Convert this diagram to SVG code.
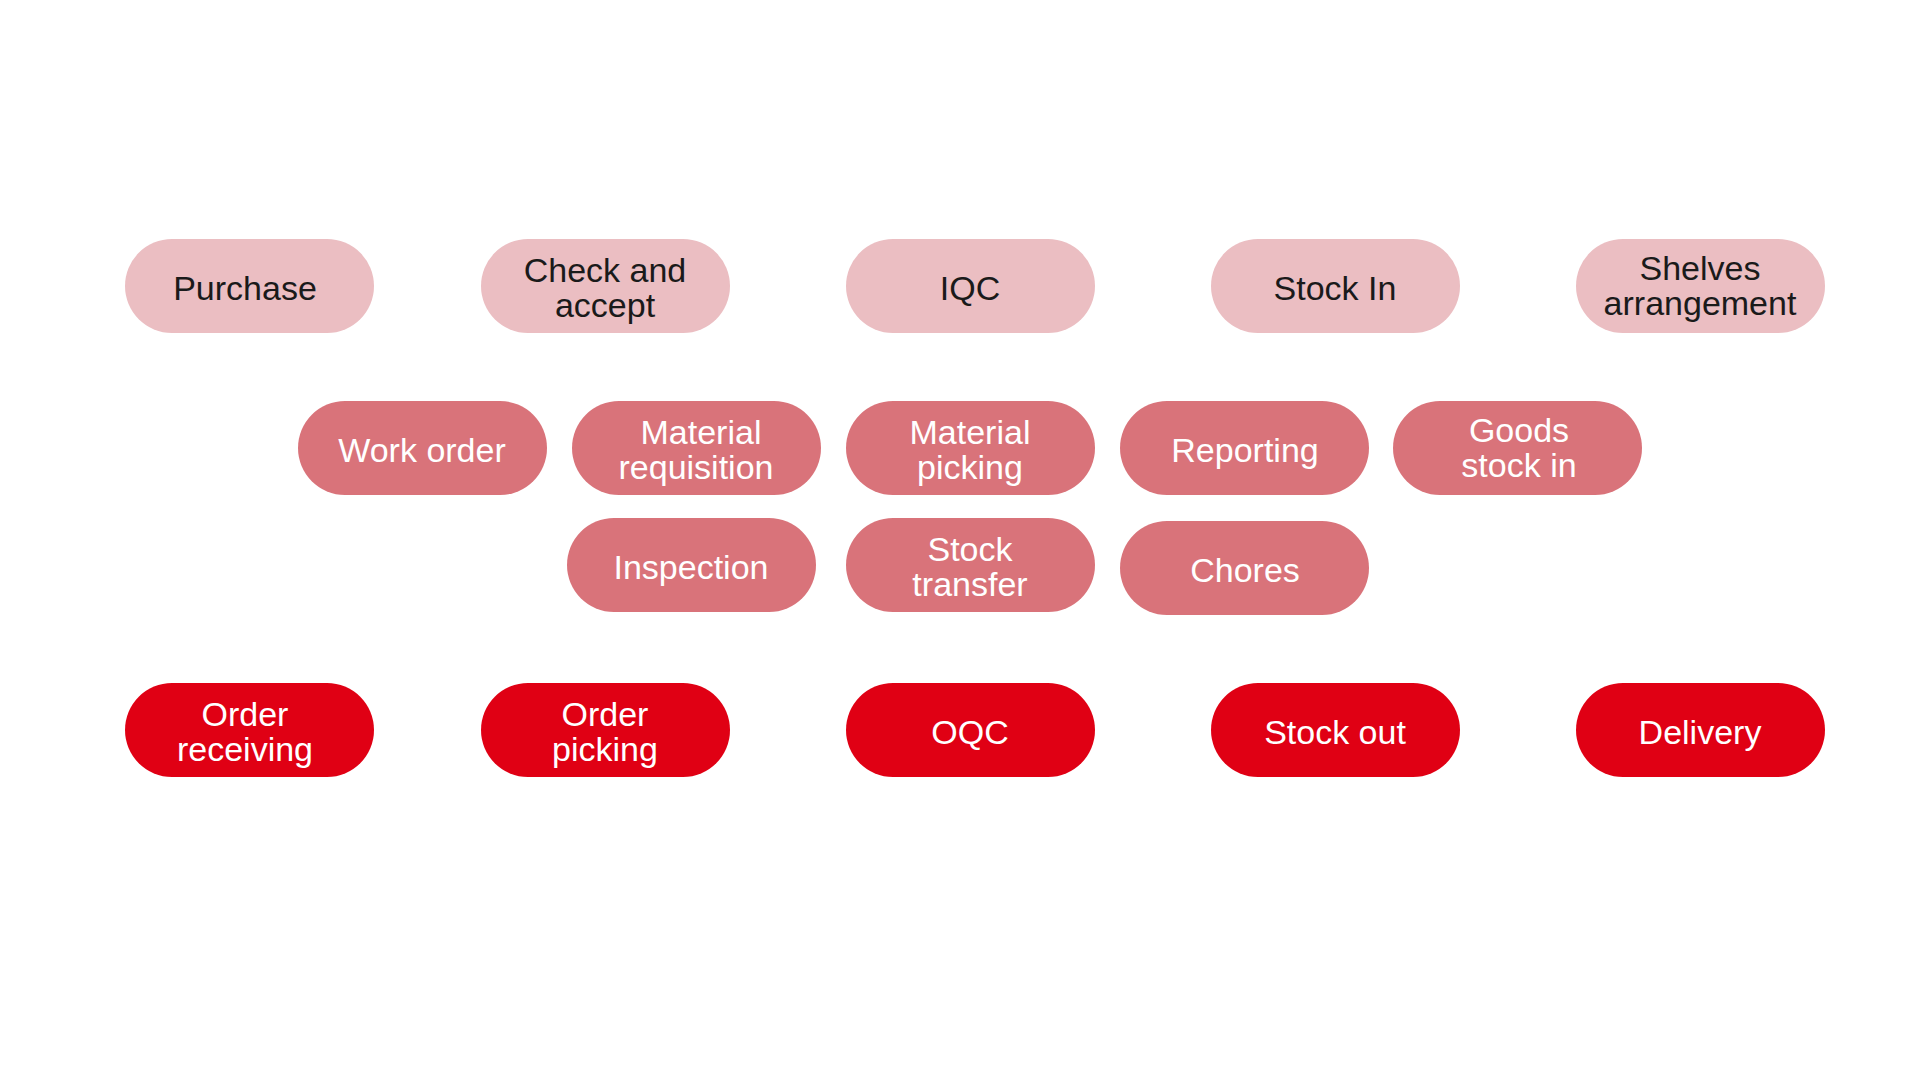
<svg xmlns="http://www.w3.org/2000/svg" width="1920" height="1080" viewBox="0 0 1920 1080">
<style>
rect{rx:47px;ry:47px}
.l rect{fill:#EBBEC2}.m rect{fill:#D9737A}.r rect{fill:#E00014}
text{font-family:"Liberation Sans",Arial,sans-serif;font-size:34px;text-anchor:middle}
.l text{fill:#1a1a1a}.m text,.r text{fill:#fff}
</style>
<rect width="1920" height="1080" fill="#fff" style="rx:0"/>
<g id="connectors"/>
<g id="purchase" class="l"><rect x="125" y="239" width="249" height="94"/><text x="245" y="300">Purchase</text></g>
<g id="check" class="l"><rect x="481" y="239" width="249" height="94"/><text x="605" y="282">Check and</text><text x="605" y="317">accept</text></g>
<g id="iqc" class="l"><rect x="846" y="239" width="249" height="94"/><text x="970" y="300">IQC</text></g>
<g id="stockin" class="l"><rect x="1211" y="239" width="249" height="94"/><text x="1335" y="300">Stock In</text></g>
<g id="shelves" class="l"><rect x="1576" y="239" width="249" height="94"/><text x="1700" y="280">Shelves</text><text x="1700" y="315">arrangement</text></g>
<g id="workorder" class="m"><rect x="298" y="401" width="249" height="94"/><text x="422" y="462">Work order</text></g>
<g id="matreq" class="m"><rect x="572" y="401" width="249" height="94"/><text x="701" y="444">Material</text><text x="696" y="479">requisition</text></g>
<g id="matpick" class="m"><rect x="846" y="401" width="249" height="94"/><text x="970" y="444">Material</text><text x="970" y="479">picking</text></g>
<g id="reporting" class="m"><rect x="1120" y="401" width="249" height="94"/><text x="1245" y="462">Reporting</text></g>
<g id="goods" class="m"><rect x="1393" y="401" width="249" height="94"/><text x="1519" y="442">Goods</text><text x="1519" y="477">stock in</text></g>
<g id="inspection" class="m"><rect x="567" y="518" width="249" height="94"/><text x="691" y="579">Inspection</text></g>
<g id="transfer" class="m"><rect x="846" y="518" width="249" height="94"/><text x="970" y="561">Stock</text><text x="970" y="596">transfer</text></g>
<g id="chores" class="m"><rect x="1120" y="521" width="249" height="94"/><text x="1245" y="582">Chores</text></g>
<g id="orderrec" class="r"><rect x="125" y="683" width="249" height="94"/><text x="245" y="726">Order</text><text x="245" y="761">receiving</text></g>
<g id="orderpick" class="r"><rect x="481" y="683" width="249" height="94"/><text x="605" y="726">Order</text><text x="605" y="761">picking</text></g>
<g id="oqc" class="r"><rect x="846" y="683" width="249" height="94"/><text x="970" y="744">OQC</text></g>
<g id="stockout" class="r"><rect x="1211" y="683" width="249" height="94"/><text x="1335" y="744">Stock out</text></g>
<g id="delivery" class="r"><rect x="1576" y="683" width="249" height="94"/><text x="1700" y="744">Delivery</text></g>
</svg>
